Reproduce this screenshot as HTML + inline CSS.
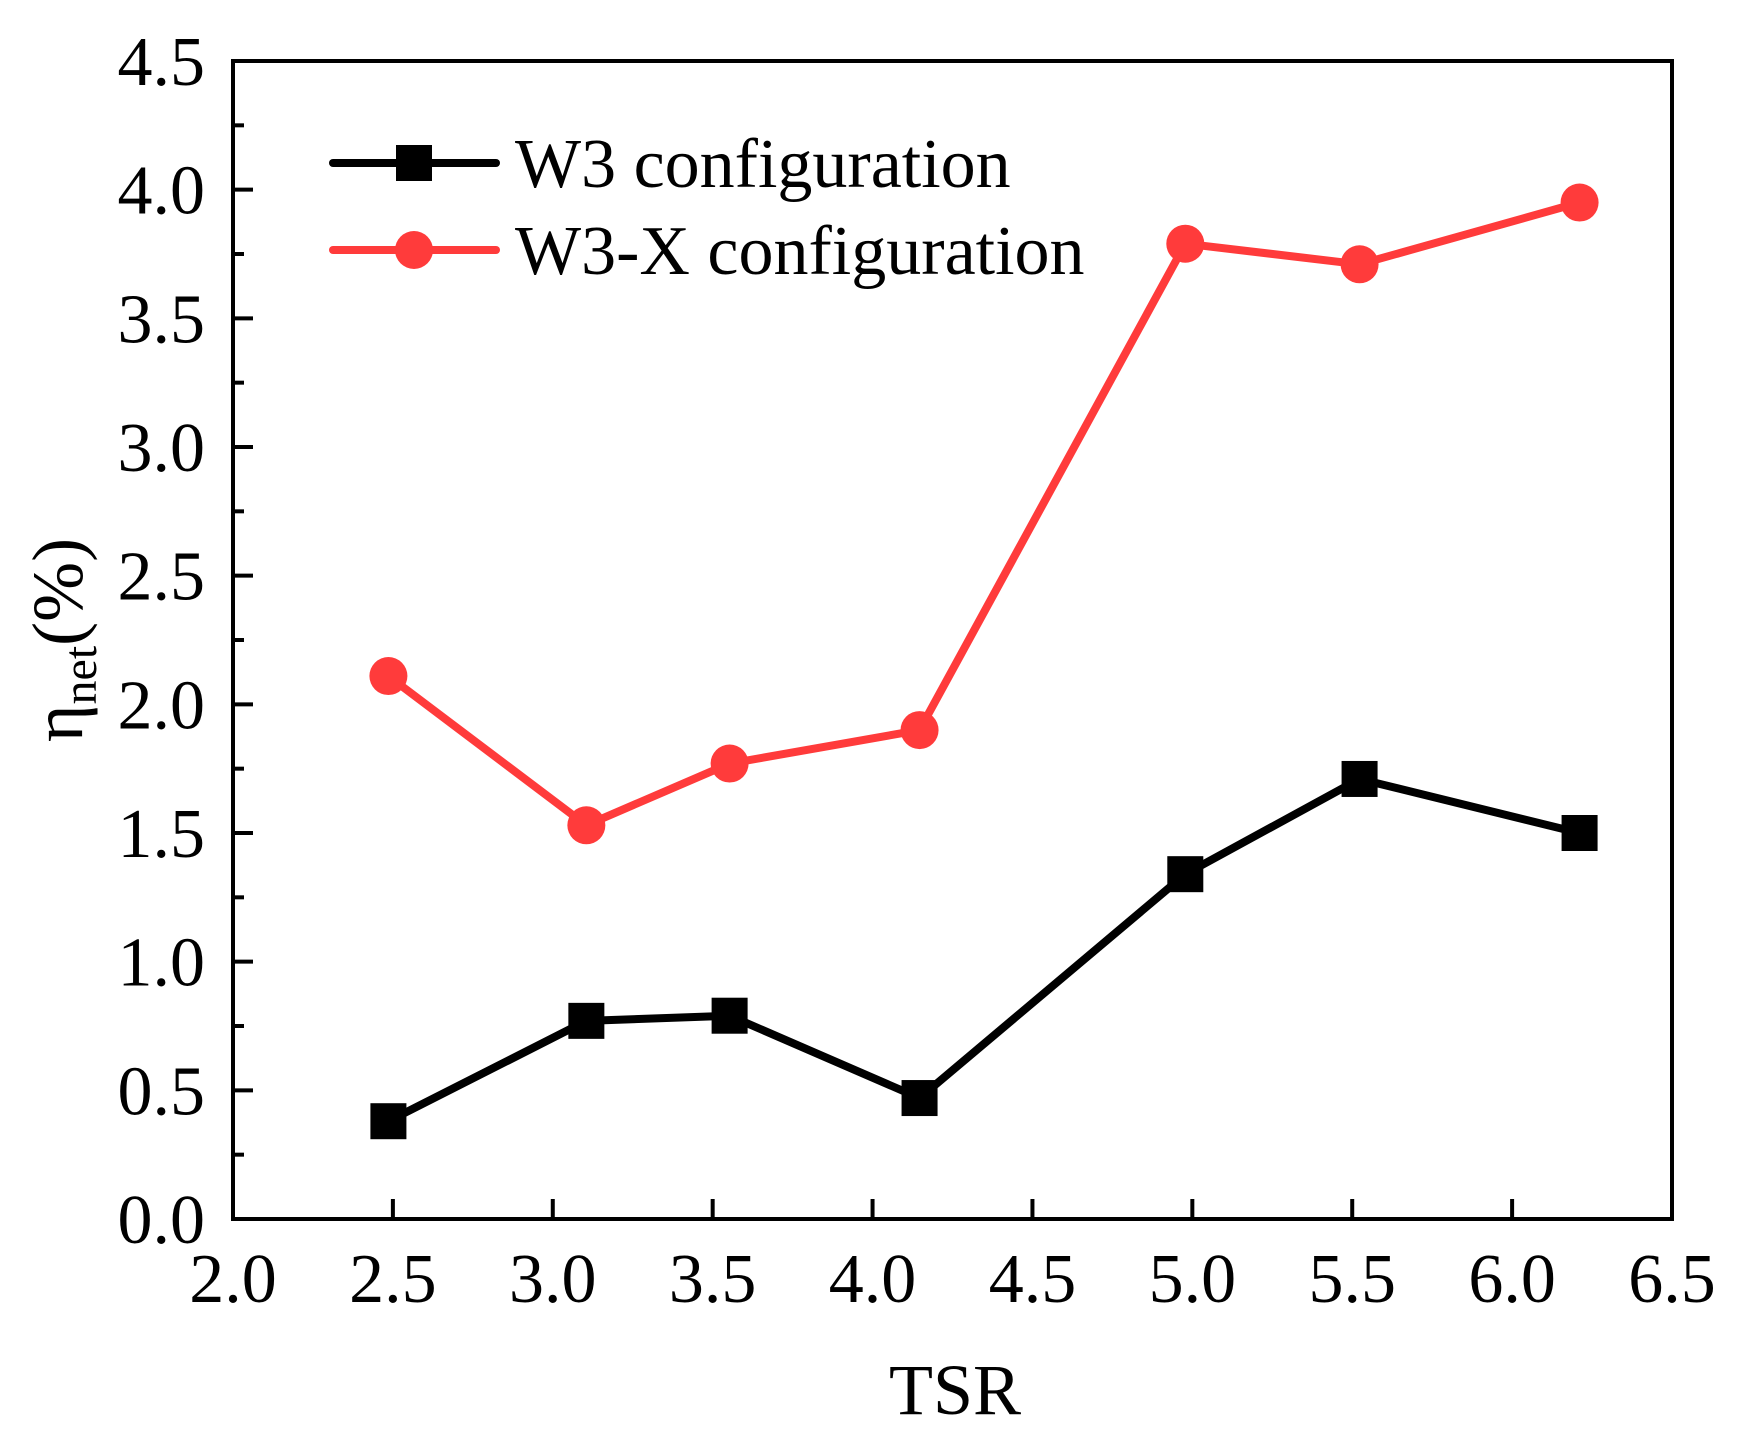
<!DOCTYPE html>
<html><head><meta charset="utf-8"><style>
html,body{margin:0;padding:0;background:#fff;}
svg text{font-family:"Liberation Serif",serif;fill:#000;}
</style></head><body>
<svg id="chart" width="1742" height="1451" viewBox="0 0 1742 1451" xmlns="http://www.w3.org/2000/svg">
<g id="axes"></g>
<g id="series"></g>
<g>
  <line x1="333" y1="163" x2="496" y2="163" stroke="#000" stroke-width="8" stroke-linecap="round"/>
  <rect x="396" y="145" width="36" height="36" fill="#000"/>
  <text x="515" y="187" font-size="70">W3 configuration</text>
  <line x1="333" y1="250" x2="496" y2="250" stroke="#ff3b3b" stroke-width="8" stroke-linecap="round"/>
  <circle cx="414" cy="250" r="19" fill="#ff3b3b"/>
  <text x="515" y="274" font-size="70">W3-X configuration</text>
</g>
<text x="955" y="1414" font-size="72" text-anchor="middle">TSR</text>
<text transform="translate(82,640) rotate(-90)" font-size="72" text-anchor="middle">η<tspan font-size="48" dy="14">net</tspan><tspan dy="-14">(%)</tspan></text>
</svg>
<script>
const tsr = [2.486, 3.105, 3.553, 4.147, 4.978, 5.523, 6.211];
const w3 = [0.38, 0.77, 0.79, 0.47, 1.34, 1.71, 1.50];
const w3x = [2.11, 1.53, 1.77, 1.90, 3.79, 3.71, 3.95];
const xTicks = ["2.0","2.5","3.0","3.5","4.0","4.5","5.0","5.5","6.0","6.5"];
const yTicks = ["0.0","0.5","1.0","1.5","2.0","2.5","3.0","3.5","4.0","4.5"];

const L=233,R=1672,T=61,B=1219;
const xMin=2,xMax=6.5,yMin=0,yMax=4.5;
const sx=v=>L+(v-xMin)/(xMax-xMin)*(R-L);
const sy=v=>B-(v-yMin)/(yMax-yMin)*(B-T);
const NS="http://www.w3.org/2000/svg";
function mk(tag,attrs,parent){const e=document.createElementNS(NS,tag);for(const k in attrs)e.setAttribute(k,attrs[k]);parent.appendChild(e);return e;}
const axes=document.getElementById('axes'), series=document.getElementById('series');

const frame=mk('rect',{x:L,y:T,width:R-L,height:B-T,fill:'none',stroke:'#000','stroke-width':4},axes);



xTicks.forEach((t,i)=>{
  const v=parseFloat(t), x=sx(v);
  const tk=mk('line',{x1:x,y1:B,x2:x,y2:B-20,stroke:'#000','stroke-width':4},axes);
  
  
  const lb=mk('text',{x:x,y:B+83,'font-size':70,'text-anchor':'middle'},axes);
  lb.textContent=t;
  
  
});
yTicks.forEach((t,i)=>{
  const v=parseFloat(t), y=sy(v);
  const tk=mk('line',{x1:L,y1:y,x2:L+20,y2:y,stroke:'#000','stroke-width':4},axes);
  
  
  if(i<yTicks.length-1){
    const m=mk('line',{x1:L,y1:sy(v+0.25),x2:L+11,y2:sy(v+0.25),stroke:'#000','stroke-width':4},axes);
    
    
  }
  const lb=mk('text',{x:205,y:y+24,'font-size':70,'text-anchor':'end'},axes);
  lb.textContent=t;
  
  
});

function drawSeries(vals,color,shape,name){
  const pts=tsr.map((x,i)=>sx(x)+','+sy(vals[i])).join(' ');
  const pl=mk('polyline',{points:pts,fill:'none',stroke:color,'stroke-width':8,'stroke-linejoin':'round'},series);
  
  
  tsr.forEach((x,i)=>{
    let m;
    if(shape==='square') m=mk('rect',{x:sx(x)-18,y:sy(vals[i])-18,width:36,height:36,fill:color},series);
    else m=mk('circle',{cx:sx(x),cy:sy(vals[i]),r:19,fill:color},series);
    
    
  });
}
drawSeries(w3x,'#ff3b3b','circle','w3x');
drawSeries(w3,'#000','square','w3');
</script>
</body></html>
